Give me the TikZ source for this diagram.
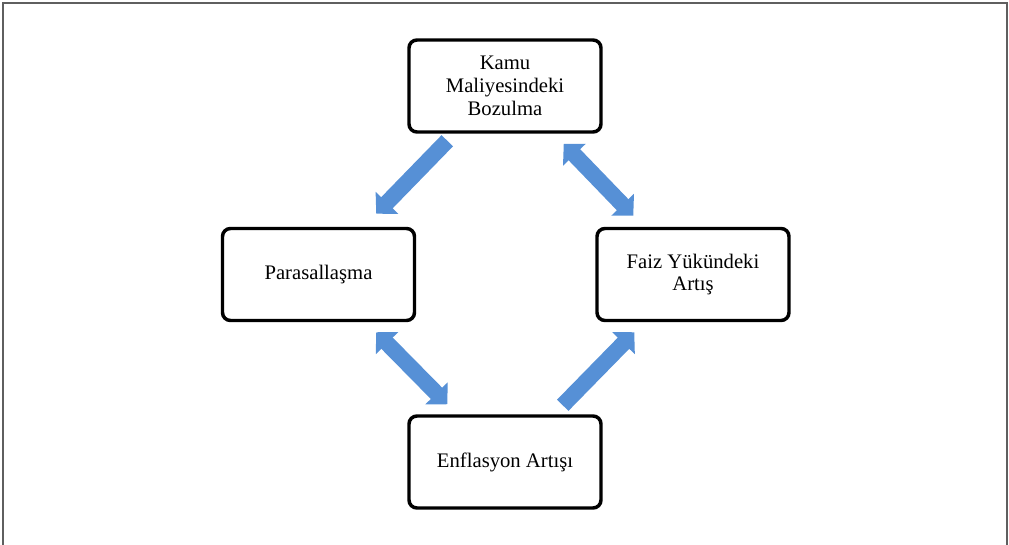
\documentclass[tikz,border=0pt]{standalone}
\usepackage{fontspec}
\setmainfont{Liberation Serif}
\usepackage{xcolor}
\usetikzlibrary{arrows.meta}
\definecolor{arrowblue}{HTML}{5690D6}
\definecolor{framegray}{HTML}{5F5F5F}
\tikzset{
	kutu/.style={
			draw, line width=2.6pt, rounded corners=6pt,
			minimum width=144pt, minimum height=69pt,
			align=center, font=\fontsize{15.5}{17}\selectfont
		},
	okbir/.style={
			arrowblue, line width=12pt,
			-{Triangle[width=23pt,length=11.5pt]}
		},
	okiki/.style={
			arrowblue, line width=12pt,
			{Triangle[width=23pt,length=11.5pt]}-{Triangle[width=23pt,length=11.5pt]}
		}
}

\begin{document}
\begin{tikzpicture}[x=0.75pt,y=-0.75pt]
		\useasboundingbox (0,0) rectangle (1009,545);
		\draw[framegray, line width=1.6pt] (3,548) -- (3,3) -- (1007,3) -- (1007,548);

		\node[kutu] (kamu) at (505,86) {Kamu\\Maliyesindeki\\Bozulma};
		\node[kutu] (para) at (318.5,274.5) {Parasallaşma};
		\node[kutu] (faiz) at (693,274.5) {Faiz Yükündeki\\Artış};
		\node[kutu] (enf) at (505,462) {Enflasyon Artışı};

		\draw[okbir] ([shift={(40,7)}]kamu.south west) -- ([shift={(-40,-13)}]para.north east);
		\draw[okiki] ([shift={(-39,10)}]kamu.south east) -- ([shift={(38,-11)}]faiz.north west);
		\draw[okiki] ([shift={(-40,10)}]para.south east) -- ([shift={(40,-10)}]enf.north west);
		\draw[okbir] ([shift={(-40,-9)}]enf.north east) -- ([shift={(39,10)}]faiz.south west);
	\end{tikzpicture}
\end{document}
